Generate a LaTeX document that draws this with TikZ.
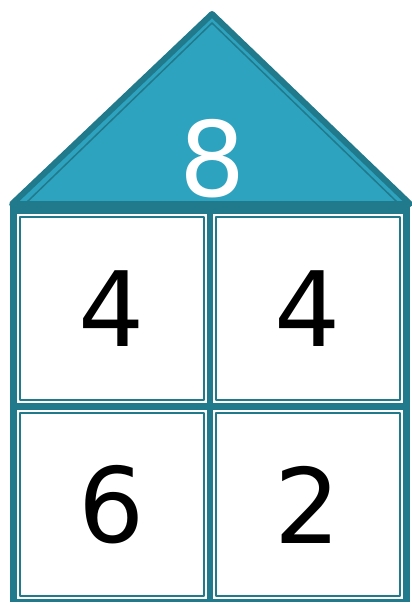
\documentclass[tikz,border=0pt]{standalone}
\usepackage{fontspec}
\setmainfont{DejaVu Sans}
\usepackage{tikz}
\usetikzlibrary{positioning}

\definecolor{roofblue}{HTML}{2DA3BF}
\definecolor{framedark}{HTML}{217A8C}

\tikzset{
    cellbox/.style={fill=white,draw=none},
    cellline/.style={draw=framedark,line width=1.3pt},
    digit/.style={inner sep=0pt,font=\fontsize{104}{104}\selectfont}
}

\begin{document}
\begin{tikzpicture}[x=1pt,y=-1pt,line join=round]
    \useasboundingbox (0,0) rectangle (412,603);
    % house frame
    \fill[framedark] (10,204) rectangle (410,602);
    % roof
    \draw[fill=roofblue,draw=framedark,line width=6pt] (212,14) -- (410,204) -- (12,204) -- cycle;
    \draw[framedark,line width=1.5pt] (212,23) -- (397,202) -- (27,202) -- cycle;
    \node[digit,text=white] (sum) at (213,159) {8};
    % cells
    \foreach \name/\xa/\ya/\val in {tl/17/214/4,tr/213/214/4,bl/17/410/6,br/213/410/2} {
        \fill[cellbox] (\xa,\ya) rectangle ++(190,189);
        \draw[cellline] (\xa+3,\ya+3) rectangle ++(184,183);
        \node[digit] (\name) at (\xa+94.5,\ya+94.5) {\val};
    }
\end{tikzpicture}
\end{document}
